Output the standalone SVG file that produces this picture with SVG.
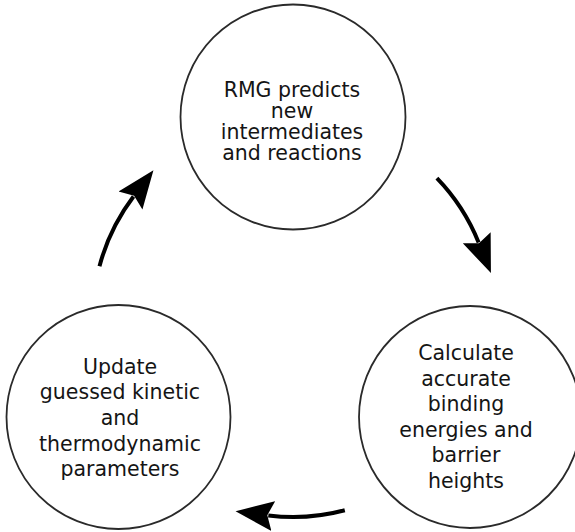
<svg xmlns="http://www.w3.org/2000/svg" width="575" height="532" viewBox="0 0 575 532">
<style>
.node circle{fill:#fff;stroke:#2a2a2a;stroke-width:1.8}
.node text{font-family:"DejaVu Sans",sans-serif;font-size:20.5px;fill:#151515;text-anchor:middle}
.conn path{fill:none;stroke:#000;stroke-width:4;marker-end:url(#head)}
</style>
<defs>
<marker id="head" markerUnits="userSpaceOnUse" markerWidth="44" markerHeight="34" viewBox="0 -17 44 34" refX="5" refY="0" orient="auto">
<path d="M0,-15 L38,0 L0,15 L6,0 Z" fill="#000"/>
</marker>
</defs>
<rect width="575" height="532" fill="#fff"/>
<g id="rmg" class="node">
<circle cx="293" cy="117" r="112.5"/>
<text x="292" y="97">RMG predicts</text>
<text x="292" y="118">new</text>
<text x="292" y="139">intermediates</text>
<text x="292" y="160">and reactions</text>
</g>
<g id="calculate" class="node">
<circle cx="470" cy="417" r="111"/>
<text x="466" y="360">Calculate</text>
<text x="466" y="385.5">accurate</text>
<text x="466" y="411">binding</text>
<text x="466" y="436.5">energies and</text>
<text x="466" y="462">barrier</text>
<text x="466" y="487.5">heights</text>
</g>
<g id="update" class="node">
<circle cx="118.5" cy="417" r="112"/>
<text x="120" y="373.5">Update</text>
<text x="120" y="399.2">guessed kinetic</text>
<text x="120" y="424.9">and</text>
<text x="120" y="450.6">thermodynamic</text>
<text x="120" y="476.3">parameters</text>
</g>
<g id="connectors" class="conn">
<path d="M99.5,266.2 A200,200 0 0 1 133.5,196.5"/>
<path d="M436.9,178.1 A200,200 0 0 1 478.6,242.4"/>
<path d="M344.8,510.2 A200,200 0 0 1 268.3,515.4"/>
</g>
</svg>
